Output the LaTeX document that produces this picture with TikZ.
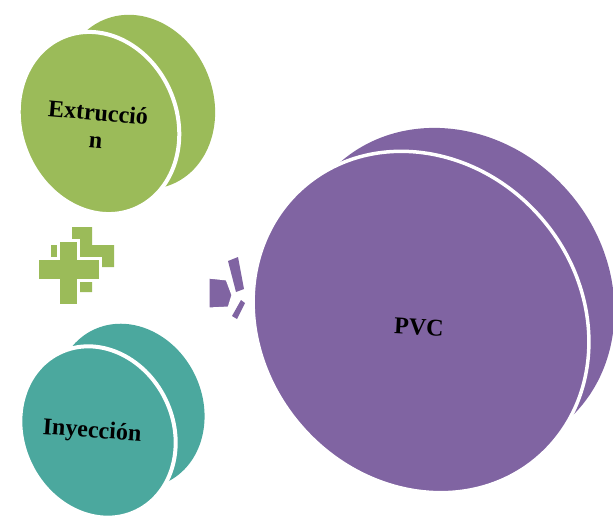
\documentclass[tikz,border=0pt]{standalone}
\usepackage{fontspec}
\setmainfont{Liberation Serif}
\definecolor{discgreen}{RGB}{155,187,89}
\definecolor{discteal}{RGB}{75,168,158}
\definecolor{discpurple}{RGB}{128,100,162}
\begin{document}
\begin{tikzpicture}[x=1pt, y=-1pt,
	gap/.style={draw=white, line width=#1},
	gap/.default=4pt,
	lbl/.style={font=\fontsize{24}{28}\selectfont\bfseries, text=black, align=center}]
	\clip (0,0) rectangle (613,519);
	% green disc
	\fill[discgreen] (138,102) ellipse[x radius=75, y radius=89, rotate=22];
	\path[fill=discgreen, gap] (99,123) ellipse[x radius=78, y radius=93, rotate=22];
	\node[lbl, rotate=-5] (extr) at (97,126) {Extrucció\\n};
	% teal disc
	\fill[discteal] (130,406) ellipse[x radius=72, y radius=84.5, rotate=26];
	\path[fill=discteal, gap] (98,432) ellipse[x radius=75, y radius=88, rotate=26];
	\node[lbl, rotate=-4] (iny) at (92,432) {Inyección};
	% purple disc
	\fill[discpurple] (453,292) ellipse[x radius=153, y radius=172, rotate=41];
	\path[fill=discpurple, gap=3.5pt] (421,322) ellipse[x radius=159, y radius=179, rotate=41];
	\node[lbl, rotate=-3] (pvc) at (419,327) {PVC};
	% plus
	\fill[discgreen, shift={(14,-13)}] (58,240) -- (78,240) -- (78,258) -- (100,258) -- (100,280) -- (78,280) -- (78,305) -- (58,305) -- (58,280) -- (37,280) -- (37,258) -- (58,258) -- cycle;
	\path[fill=discgreen, gap=3pt] (58,240) -- (78,240) -- (78,258) -- (100,258) -- (100,280) -- (78,280) -- (78,305) -- (58,305) -- (58,280) -- (37,280) -- (37,258) -- (58,258) -- cycle;
	% arrow
	\fill[discpurple] (228,261) -- (238,257) -- (244,289) -- (236,292) -- cycle;
	\fill[discpurple] (241,300) -- (245,303) -- (237,319) -- (232,316) -- cycle;
	\path[fill=discpurple, gap=3pt] (208,277) -- (227,279) -- (233,295) -- (229,308) -- (208,309) -- cycle;
\end{tikzpicture}
\end{document}
